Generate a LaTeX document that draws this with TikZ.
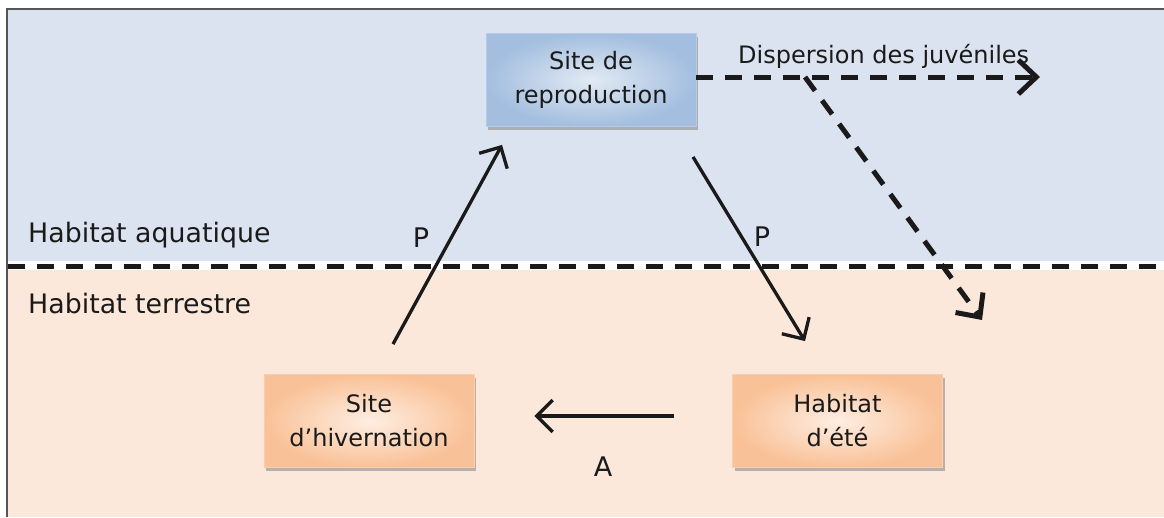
\documentclass[tikz,border=0pt]{standalone}
\usepackage{fontspec}
\setmainfont{DejaVu Sans}
\usetikzlibrary{arrows.meta,shadows}
\definecolor{bgblue}{HTML}{DCE3F0}
\definecolor{bgpeach}{HTML}{FCE8DA}
\definecolor{framegray}{HTML}{555555}
\definecolor{textcol}{HTML}{1A1A1A}
\definecolor{blueIn}{HTML}{E2EAF4}
\definecolor{blueOut}{HTML}{A3BEDF}
\definecolor{orIn}{HTML}{FEEEE2}
\definecolor{orOut}{HTML}{F9C197}
\tikzset{
  box/.style={rectangle, minimum width=210pt, minimum height=93pt, align=center,
    font=\fontsize{24}{34}\selectfont, text=textcol,
    drop shadow={shadow xshift=2pt, shadow yshift=-3pt, fill=black!45, opacity=0.6}},
  bluebox/.style={box, inner color=blueIn, outer color=blueOut, draw=blueOut!80!white, line width=0.8pt},
  orbox/.style={box, inner color=orIn, outer color=orOut, draw=orOut!80!white, line width=0.8pt},
  solidarrow/.style={draw=textcol, line width=3.3pt, -{Straight Barb[length=16pt,width=32pt]}},
  dasharrow/.style={draw=textcol, line width=5pt, dash pattern=on 17pt off 12pt, -{Straight Barb[length=18pt,width=34pt]}},
  divider/.style={draw=textcol, line width=5pt, dash pattern=on 17pt off 12pt},
  zonelabel/.style={anchor=base west, font=\fontsize{26.8}{30}\selectfont, text=textcol, inner sep=0pt},
  arrowlabel/.style={anchor=base, font=\fontsize{27}{30}\selectfont, text=textcol, inner sep=0pt},
}
\begin{document}
\begin{tikzpicture}[x=1pt,y=-1pt]
\useasboundingbox (0,0) rectangle (1164,517);
\fill[white] (0,0) rectangle (1164,517);
\fill[bgblue] (8,10) rectangle (1164,261);
\fill[bgpeach] (8,270) rectangle (1164,517);
\draw[framegray, line width=2pt] (7,517) -- (7,9) -- (1164,9);
\draw[divider] (8,266) -- (1164,266);

\node[zonelabel] (aqua) at (28,242) {Habitat aquatique};
\node[zonelabel] (terre) at (28,313) {Habitat terrestre};

\node[bluebox] (rep) at (591,80) {Site de\\reproduction};
\node[orbox] (hiv) at (369,421) {Site\\d’hivernation};
\node[orbox] (ete) at (837.5,421) {Habitat\\d’été};

\coordinate (dispend) at (1040,77);
\coordinate (branch) at (805,77);
\coordinate (diagend) at (982,320);

\draw[dasharrow] ([yshift=3pt]rep.east) -- (dispend);
\draw[dasharrow] (branch) -- (diagend);
\node[anchor=base west, font=\fontsize{24}{30}\selectfont, text=textcol, inner sep=0pt] (disp) at (738,63) {Dispersion des juvéniles};

\draw[solidarrow] ([xshift=24pt,yshift=30pt]hiv.north) -- ([xshift=-89pt,yshift=-18pt]rep.south);
\draw[solidarrow] ([xshift=102pt,yshift=-30pt]rep.south) -- ([xshift=-32.5pt,yshift=33pt]ete.north);
\draw[solidarrow] ([xshift=-58pt,yshift=5pt]ete.west) -- ([xshift=60pt,yshift=5pt]hiv.east);

\node[arrowlabel] (p1) at (421,247) {P};
\node[arrowlabel] (p2) at (762,246) {P};
\node[arrowlabel] (a1) at (603,476) {A};
\end{tikzpicture}
\end{document}
